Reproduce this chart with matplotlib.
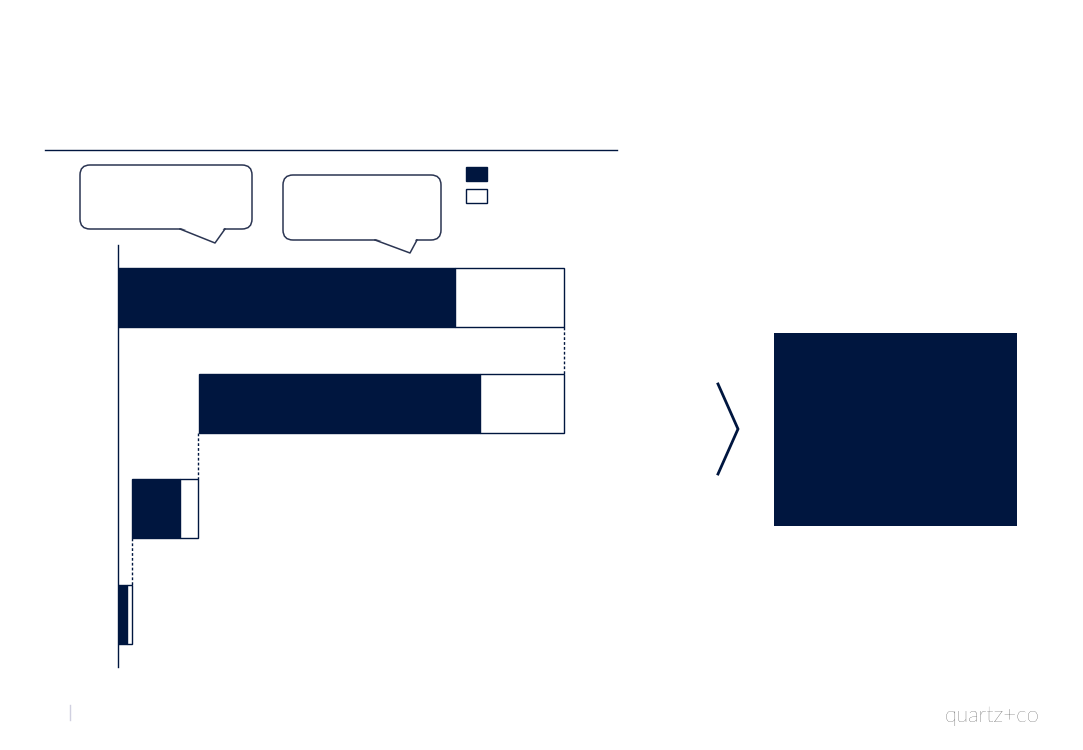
import matplotlib.pyplot as plt
from matplotlib.patches import Rectangle, FancyBboxPatch, Polygon

navy = '#00163F'

# waterfall rows, top to bottom (units of the bar axis)
rows = [0, 1, 2, 3]
starts = [0, 81, 14, 0]
dark_vals = [337, 281, 48, 9]
light_vals = [109, 84, 18, 5]

fig = plt.figure(figsize=(10.83, 7.5), dpi=100)

# bar axes: x in 0..500, one unit ~ one pixel
W, H = 1083.0, 750.0
ax = fig.add_axes([118 / W, (H - 667) / H, 500 / W, 422 / H])
ax.set_xlim(0, 500)
ax.set_ylim(3.5, -0.5)
bh = 0.56
lefts_light = [s + d for s, d in zip(starts, dark_vals)]
ax.barh(rows, dark_vals, left=starts, height=bh, color=navy, edgecolor=navy, linewidth=1, zorder=3)
ax.barh(rows, light_vals, left=lefts_light, height=bh, color='white', edgecolor=navy, linewidth=1, zorder=3)

# dotted connectors between consecutive rows
for i in range(len(rows) - 1):
    xe = starts[i + 1] + dark_vals[i + 1] + light_vals[i + 1]
    ax.plot([xe, xe], [rows[i] + bh / 2, rows[i + 1] - bh / 2], color=navy, lw=1,
            linestyle=(0, (2, 1.5)), zorder=2)

for s in ['top', 'right', 'bottom']:
    ax.spines[s].set_visible(False)
ax.spines['left'].set_color(navy)
ax.spines['left'].set_linewidth(1)
ax.set_xticks([])
ax.set_yticks([])
ax.patch.set_alpha(0)

# overlay in pixel coordinates for the decoration
ov = fig.add_axes([0, 0, 1, 1], zorder=-1)
ov.set_xlim(0, W)
ov.set_ylim(H, 0)
ov.axis('off')

ov.plot([45, 617], [150, 150], color=navy, lw=1)


def bubble(x0, y0, x1, y1, t0, tip, t1):
    box = FancyBboxPatch((x0 + 8, y0 + 8), x1 - x0 - 16, y1 - y0 - 16,
                         boxstyle='round,pad=8,rounding_size=10',
                         fc='white', ec='#2B3552', lw=1.1)
    ov.add_patch(box)
    ov.add_patch(Polygon([(t0 + 1, y1 - 1), (tip[0], tip[1] - 2), (t1 - 1, y1 - 1)],
                         closed=True, fc='white', ec='none', zorder=3))
    ov.plot([t0, tip[0], t1], [y1, tip[1], y1], color='#2B3552', lw=1.1, zorder=4)


bubble(80, 165, 252, 229, 180, (215, 243), 225)
bubble(283, 175, 441, 240, 375, (410, 253), 417)

ov.add_patch(Rectangle((466, 167), 21, 14, fc=navy, ec=navy, lw=1))
ov.add_patch(Rectangle((466, 189), 21, 14, fc='white', ec=navy, lw=1))

ov.plot([718, 738, 718], [384, 429, 474], color=navy, lw=2, solid_joinstyle='miter')
ov.add_patch(Rectangle((774, 333), 243, 193, fc=navy, ec='none'))

ov.plot([70, 70], [705, 720], color='#D0D0E0', lw=1)
ov.text(1039, 716, 'quartz+co', fontsize=16, color='#1E1E1E', family='Lato',
        fontweight='light', ha='right', va='center')

fig.savefig('out.png', dpi=100)
